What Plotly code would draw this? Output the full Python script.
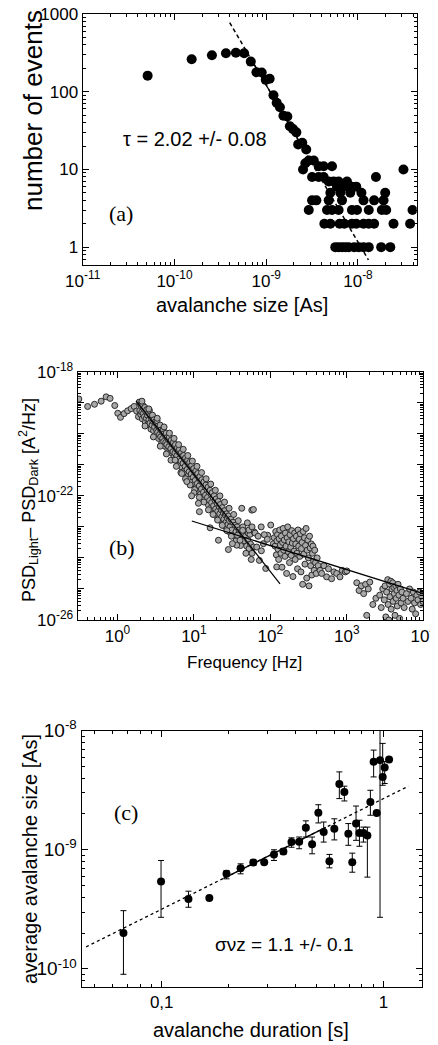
import plotly.graph_objects as go

W, H = 438, 1045          # browser window
OFF = 8                   # default page body margin that offsets the figure
FW, FH = W - OFF, H - OFF # figure size so that it fits the window exactly
SANS = "Liberation Sans, Arial, sans-serif"
SERIF = "Liberation Serif, Times New Roman, serif"

# ---------------- panel (a): avalanche size distribution ----------------
size_main = [5.1e-11, 1.54e-10, 2.56e-10, 3.64e-10, 4.67e-10, 5.74e-10, 6.79e-10, 7.82e-10,
             8.93e-10, 9.88e-10, 1.09e-9, 1.20e-9, 1.30e-9, 1.41e-9, 1.54e-9, 1.70e-9,
             1.81e-9, 1.96e-9, 2.13e-9, 2.23e-9, 2.47e-9, 2.73e-9]
events_main = [161, 261, 294, 312, 318, 312, 244, 178, 177, 142, 147, 90, 72, 63, 49, 48,
               36, 33, 30, 21, 22, 18]
size_tail = [2.91e-9, 3.30e-9,
             2.67e-9,
             3.73e-9, 4.23e-9, 5.21e-9,
             2.52e-9, 3.13e-8,
             3.16e-9, 3.73e-9, 4.23e-9, 1.57e-8,
             4.80e-9, 5.43e-9, 6.15e-9, 7.59e-9,
             5.90e-9, 6.98e-9, 8.59e-9, 9.58e-9,
             5.00e-9, 6.42e-9, 8.24e-9, 1.09e-8, 1.98e-8,
             3.16e-9, 3.52e-9, 4.80e-9, 6.70e-9, 1.15e-8, 1.50e-8, 1.90e-8,
             2.91e-9, 4.60e-9, 5.21e-9, 6.15e-9, 8.59e-9, 9.75e-9, 1.31e-8, 1.82e-8, 2.03e-8, 3.93e-8,
             4.30e-9, 5.00e-9, 6.31e-9, 7.10e-9, 8.59e-9, 9.58e-9, 1.15e-8, 1.31e-8, 1.50e-8, 2.44e-8, 3.70e-8,
             5.66e-9, 6.15e-9, 6.70e-9, 7.28e-9, 7.91e-9, 9.11e-9, 1.02e-8, 1.15e-8, 1.31e-8, 1.79e-8, 2.25e-8]
events_tail = [13, 13,
               12,
               11, 11, 11,
               10, 10,
               8, 8, 8, 8,
               7, 7, 7, 7,
               6, 6, 6, 6,
               5, 5, 5, 5, 5,
               4, 4, 4, 4, 4, 4, 4,
               3, 3, 3, 3, 3, 3, 3, 3, 3, 3,
               2, 2, 2, 2, 2, 2, 2, 2, 2, 2, 2,
               1, 1, 1, 1, 1, 1, 1, 1, 1, 1, 1]
tau = 2.02
tau_anchor = (4.0e-10, 775.0)
tau_line_x = [4.0e-10, 1.3e-8]
tau_solid_x = [7.0e-10, 2.5e-9]

psd_low_f = [-0.505, -0.39, -0.30, -0.213, -0.148, -0.096, -0.035, 0.004, 0.04, 0.087,
             0.133, 0.179, 0.218, 0.25, 0.275]
psd_low_p = [-18.88, -19.12, -19.05, -18.95, -18.81, -18.86, -19.09, -19.34, -19.47, -19.35,
             -19.26, -19.19, -19.12, -19.27, -19.45]
psd_steep_f = [
    0.285, 0.292, 0.300, 0.305, 0.312, 0.318, 0.325, 0.331, 0.338, 0.345, 0.352, 0.358, 0.365, 0.371,
    0.378, 0.384, 0.391, 0.398, 0.405, 0.411, 0.418, 0.425, 0.432, 0.438, 0.445, 0.452, 0.458, 0.465,
    0.472, 0.478, 0.485, 0.492, 0.498, 0.505, 0.512, 0.518, 0.525, 0.531, 0.538, 0.545, 0.551, 0.558,
    0.565, 0.571, 0.578, 0.585, 0.591, 0.598, 0.605, 0.611, 0.618, 0.625, 0.631, 0.638, 0.645, 0.651,
    0.658, 0.665, 0.671, 0.678, 0.685, 0.691, 0.698, 0.705, 0.711, 0.718, 0.725, 0.731, 0.738, 0.745,
    0.751, 0.758, 0.765, 0.771, 0.778, 0.785, 0.791, 0.798, 0.805, 0.811, 0.818, 0.825, 0.831, 0.838,
    0.845, 0.851, 0.858, 0.865, 0.871, 0.878, 0.885, 0.891, 0.898, 0.905, 0.911, 0.918, 0.925, 0.931,
    0.938, 0.945, 0.951, 0.958, 0.965, 0.971, 0.978, 0.985, 0.991, 0.998, 1.005, 1.011, 1.018, 1.025,
    1.031, 1.038, 1.045, 1.051, 1.058, 1.065, 1.071, 1.078, 1.085, 1.091, 1.098, 1.105, 1.111, 1.118,
    1.125, 1.131, 1.138, 1.145, 1.151, 1.158, 1.165, 1.171, 1.178, 1.185, 1.191, 1.198, 1.205, 1.211,
    1.218, 1.225, 1.231, 1.238, 1.245, 1.251, 1.258, 1.265, 1.271, 1.278, 1.285, 1.291, 1.298, 1.305,
    1.311, 1.318, 1.325, 1.331, 1.338, 1.345, 1.351, 1.358, 1.365, 1.371, 1.378, 1.385, 1.391, 1.398,
    1.405, 1.411, 1.418, 1.425, 1.431, 1.438, 1.445, 1.451, 1.458, 1.465, 1.472, 1.485, 1.498, 1.511,
    1.525, 1.538, 1.551, 1.565, 1.578, 1.591, 1.605, 1.618, 1.632, 1.645, 1.660, 1.675, 1.690, 1.705,
    1.722, 1.740, 1.760, 1.780]
psd_steep_p = [
    -18.98, -19.25, -19.05, -19.38, -19.10, -19.30, -19.52, -19.08, -19.35, -19.20, -19.45, -19.15, -19.62, -19.28,
    -19.50, -19.22, -19.40, -19.70, -19.33, -19.55, -19.25, -19.66, -19.42, -19.85, -19.50, -19.72, -19.40, -19.60,
    -19.90, -19.55, -19.78, -19.62, -20.05, -19.66, -19.88, -19.58, -19.95, -19.75, -20.15, -19.80, -20.02, -19.72,
    -20.10, -19.88, -20.30, -19.92, -20.15, -19.85, -20.25, -20.00, -20.40, -20.05, -20.28, -19.98, -20.35, -20.12,
    -20.50, -20.18, -20.42, -20.10, -20.55, -20.25, -20.48, -20.20, -20.62, -20.33, -20.58, -20.28, -20.75, -20.40,
    -20.62, -20.35, -20.80, -20.50, -20.70, -20.45, -20.90, -20.58, -20.82, -20.50, -20.98, -20.65, -20.88, -20.60,
    -21.10, -20.72, -20.95, -20.70, -21.20, -20.82, -21.05, -20.78, -21.28, -20.90, -21.15, -20.85, -21.35, -20.98,
    -21.22, -20.92, -21.45, -21.05, -21.30, -21.02, -21.55, -21.15, -21.40, -21.12, -21.62, -21.25, -21.50, -21.20,
    -21.72, -21.32, -21.60, -21.28, -21.85, -21.42, -21.68, -21.38, -21.95, -21.52, -21.78, -21.48, -22.05, -21.60,
    -21.88, -21.55, -22.10, -21.70, -21.98, -21.65, -22.20, -21.80, -22.05, -21.72, -22.30, -21.88, -22.15, -21.82,
    -22.40, -21.95, -22.22, -21.90, -22.50, -22.05, -22.32, -22.00, -22.55, -22.15, -22.42, -22.10, -22.65, -22.25,
    -22.50, -22.18, -22.72, -22.35, -22.58, -22.28, -22.80, -22.45, -22.68, -22.38, -22.90, -22.55, -22.75, -22.48,
    -22.98, -22.62, -22.85, -22.58, -23.05, -22.72, -22.92, -22.65, -23.15, -22.80, -23.00, -22.75, -23.10, -22.85,
    -23.25, -22.95, -23.15, -23.00, -23.40, -23.10, -23.30, -23.15, -23.50, -23.25, -23.45, -23.30, -23.62, -23.42,
    -23.70, -23.55, -23.85, -23.65]
psd_wide_f = [0.32, 0.36, 0.41, 0.47, 0.52, 0.56, 0.61, 0.64, 0.68, 0.70, 0.74, 0.77, 0.80, 0.83,
              0.86, 0.89, 0.92, 0.95, 0.98, 1.01, 1.04, 1.07, 1.10, 1.13, 1.16, 1.19, 1.22, 1.25,
              1.28, 1.31, 1.34, 1.37, 1.40, 1.43, 1.46, 1.49, 1.52, 1.55, 1.58, 1.61, 1.64, 1.68,
              1.71, 1.75]
psd_wide_p = [-18.95, -19.75, -19.20, -20.10, -19.50, -20.40, -19.78, -20.65, -19.98, -20.85, -20.15, -21.05,
              -20.35, -21.25, -20.50, -21.45, -20.70, -21.65, -20.88, -21.80, -21.05, -22.05, -21.25, -22.20,
              -21.45, -22.45, -21.62, -22.60, -21.82, -22.78, -22.00, -22.95, -22.20, -23.12, -22.40, -23.30,
              -22.60, -23.45, -22.80, -23.60, -23.00, -23.85, -23.20, -24.05]
psd_out_f = [0.754, 0.841, 0.907, 1.059, 1.072, 1.212, 1.321, 1.451, 1.560, 1.757, 1.778, 1.626,
             2.005, 2.236, 1.503, 1.569, 1.603, 1.638, 1.699, 1.734, 1.787, 1.821, 1.856, 1.882,
             1.908, 1.939, 1.965, 2.039, 2.083, 1.72, 1.76, 1.80, 1.84, 1.88, 1.92, 1.96, 1.0, 0.97]
psd_out_p = [-20.85, -21.28, -21.54, -22.24, -22.51, -23.03, -23.43, -23.73, -23.59, -22.46, -22.44, -22.40,
             -22.94, -23.16, -23.54, -23.27, -23.43, -23.11, -22.87, -23.24, -23.16, -23.65, -24.08, -23.77,
             -23.54, -24.34, -23.27, -23.54, -24.29, -23.1, -23.0, -23.2, -23.3, -23.0, -23.25, -23.4, -21.9, -22.0]
psd_flat_f = [
    2.050, 2.062, 2.070, 2.078, 2.085, 2.093, 2.100, 2.108, 2.115, 2.122, 2.130, 2.138, 2.145, 2.152,
    2.160, 2.167, 2.175, 2.182, 2.190, 2.197, 2.205, 2.212, 2.220, 2.227, 2.235, 2.242, 2.250, 2.257,
    2.265, 2.272, 2.280, 2.287, 2.295, 2.302, 2.310, 2.317, 2.325, 2.332, 2.340, 2.347, 2.355, 2.362,
    2.370, 2.377, 2.385, 2.392, 2.400, 2.407, 2.415, 2.422, 2.430, 2.437, 2.445, 2.452, 2.460, 2.467,
    2.475, 2.482, 2.490, 2.497, 2.505, 2.512, 2.520, 2.527, 2.535, 2.542, 2.550, 2.557, 2.565, 2.572,
    2.580, 2.590, 2.600, 2.612, 2.625,
    2.650, 2.671, 2.700, 2.736, 2.760, 2.800, 2.830, 2.867, 2.910, 2.940, 2.980, 3.000,
    3.130, 3.160, 3.190, 3.220, 3.245, 3.260, 3.280, 3.300, 3.340, 3.380,
    3.430, 3.450, 3.470, 3.490, 3.500, 3.510, 3.520, 3.535, 3.540, 3.550, 3.560, 3.565, 3.575, 3.580,
    3.590, 3.600, 3.605, 3.615, 3.620, 3.630, 3.640, 3.645, 3.655, 3.660, 3.670, 3.680, 3.690, 3.700,
    3.710, 3.720, 3.735, 3.750, 3.780, 3.800, 3.820, 3.840, 3.855, 3.870, 3.885, 3.900, 3.915, 3.930,
    3.950, 3.965, 3.980, 3.995]
psd_flat_p = [
    -23.35, -23.62, -23.15, -23.90, -23.45, -23.25, -23.72, -24.05, -23.38, -23.10, -23.58, -23.85, -23.30, -24.30,
    -23.50, -23.05, -23.75, -23.42, -23.95, -23.20, -23.62, -24.50, -23.35, -23.00, -23.80, -23.48, -24.15, -23.25,
    -23.65, -23.92, -23.12, -23.52, -24.60, -23.38, -23.78, -23.20, -24.05, -23.55, -23.30, -23.85, -24.35, -23.10,
    -23.62, -23.40, -23.95, -23.22, -24.45, -23.70, -23.50, -24.85, -23.15, -23.88, -23.35, -24.20, -23.60, -23.05,
    -24.65, -23.75, -23.42, -24.00, -24.90, -23.30, -23.68, -24.25, -23.55, -24.55, -23.85, -23.62, -24.10, -24.40,
    -23.75, -24.15, -24.50, -24.00, -24.25,
    -24.40, -24.50, -24.25, -24.61, -24.35, -24.67, -24.45, -24.50, -24.61, -24.40, -24.45, -24.42,
    -24.80, -25.05, -24.90, -25.15, -24.85, -25.85, -25.00, -24.78, -25.50, -25.30,
    -25.20, -25.60, -25.00, -25.35, -24.90, -25.90, -25.10, -24.70, -25.50, -26.00, -24.85, -25.25, -24.75, -25.65,
    -25.00, -24.80, -25.40, -24.95, -25.15, -25.85, -24.90, -25.30, -25.05, -25.55, -24.85, -25.20, -25.95, -25.00,
    -25.45, -25.10, -25.30, -25.60, -25.15, -25.40, -25.00, -25.30, -25.65, -25.10, -25.45, -25.80, -25.20, -25.35,
    -25.10, -25.50, -25.25, -25.40]
psd_fit1 = dict(x=[1.75, 133.7], slope=-3.13, y0=1.15e-19)
psd_fit2 = dict(x=[9.38, 1.0e4], slope=-0.773, y0=1.55e-23)

# ---------------- panel (c): size vs duration ----------------
duration = [0.0672, 0.0993, 0.132, 0.164, 0.196, 0.227, 0.259, 0.290, 0.321, 0.354, 0.385,
            0.417, 0.447, 0.477, 0.509, 0.538, 0.571, 0.601, 0.633, 0.667, 0.695, 0.724,
            0.753, 0.780, 0.813, 0.847, 0.874, 0.904, 0.933, 0.966, 0.993, 1.014, 1.061]
avg_size = [2.0e-10, 5.41e-10, 3.86e-10, 3.94e-10, 6.28e-10, 7.01e-10, 7.81e-10, 7.87e-10,
            9.14e-10, 9.68e-10, 1.16e-9, 1.17e-9, 1.53e-9, 1.11e-9, 2.05e-9, 1.41e-9, 8.02e-10,
            1.50e-9, 3.56e-9, 3.06e-9, 1.36e-9, 7.87e-10, 1.66e-9, 1.38e-9, 1.38e-9, 1.32e-9,
            2.52e-9, 5.48e-9, 2.04e-9, 5.66e-9, 4.09e-9, 4.91e-9, 5.73e-9]
size_hi = [3.08e-10, 8.13e-10, 4.49e-10, 3.94e-10, 6.70e-10, 7.62e-10, 8.24e-10, 8.1e-10,
           1.0e-9, 1.02e-9, 1.26e-9, 1.28e-9, 1.75e-9, 1.28e-9, 2.39e-9, 1.71e-9, 9.14e-10,
           1.82e-9, 4.51e-9, 3.42e-9, 1.66e-9, 9.37e-10, 2.33e-9, 1.77e-9, 1.55e-9, 1.55e-9,
           3.16e-9, 6.87e-9, 2.04e-9, 1.3e-8, 7.82e-9, 5.5e-9, 5.73e-9]
size_lo = [9.0e-11, 2.71e-10, 3.29e-10, 3.94e-10, 5.70e-10, 6.28e-10, 7.38e-10, 7.6e-10,
           8.13e-10, 9.14e-10, 1.05e-9, 1.02e-9, 1.28e-9, 9.25e-10, 1.68e-9, 1.16e-9, 7.05e-10,
           1.21e-9, 2.69e-9, 2.57e-9, 1.09e-9, 6.48e-10, 1.2e-9, 1.07e-9, 1.16e-9, 5.89e-10,
           1.95e-9, 4.09e-9, 2.04e-9, 2.71e-10, 3.48e-9, 3.6e-9, 5.73e-9]
snz_slope = 0.928
snz_anchor = (0.0456, 1.53e-10)
snz_line_x = [0.0456, 1.297]
snz_solid_x = [0.19, 0.55]


def powerline(xs, x0, y0, slope):
    return [y0 * (x / x0) ** slope for x in xs]


b_lf = psd_low_f + psd_steep_f + psd_wide_f + psd_out_f + psd_flat_f
b_lp = psd_low_p + psd_steep_p + psd_wide_p + psd_out_p + psd_flat_p
freq = [10 ** v for v in b_lf]
psd = [10 ** v for v in b_lp]

fig = go.Figure()

# (a)
fig.add_trace(go.Scatter(x=size_main + size_tail, y=events_main + events_tail, mode="markers",
                         marker=dict(color="black", size=10), xaxis="x", yaxis="y",
                         showlegend=False))
fig.add_trace(go.Scatter(x=tau_line_x, y=powerline(tau_line_x, *tau_anchor, -tau), mode="lines",
                         line=dict(color="black", width=1.5, dash="4px,3px"), xaxis="x", yaxis="y",
                         showlegend=False))
fig.add_trace(go.Scatter(x=tau_solid_x, y=powerline(tau_solid_x, *tau_anchor, -tau), mode="lines",
                         line=dict(color="black", width=1.3), xaxis="x", yaxis="y",
                         showlegend=False))

# (b)
fig.add_trace(go.Scatter(x=freq, y=psd, mode="markers",
                         marker=dict(color="#a8a8a8", size=6, line=dict(color="#2a2a2a", width=1)),
                         xaxis="x2", yaxis="y2", showlegend=False))
for f in (psd_fit1, psd_fit2):
    fig.add_trace(go.Scatter(x=f["x"], y=powerline(f["x"], f["x"][0], f["y0"], f["slope"]),
                             mode="lines", line=dict(color="black", width=1.2),
                             xaxis="x2", yaxis="y2", showlegend=False))

# (c)
fig.add_trace(go.Scatter(x=snz_line_x, y=powerline(snz_line_x, *snz_anchor, snz_slope), mode="lines",
                         line=dict(color="black", width=1.3, dash="3px,3px"), xaxis="x3", yaxis="y3",
                         showlegend=False))
fig.add_trace(go.Scatter(x=snz_solid_x, y=powerline(snz_solid_x, *snz_anchor, snz_slope), mode="lines",
                         line=dict(color="black", width=1.3), xaxis="x3", yaxis="y3",
                         showlegend=False))
fig.add_trace(go.Scatter(x=duration, y=avg_size, mode="markers",
                         marker=dict(color="black", size=8),
                         error_y=dict(type="data", symmetric=False,
                                      array=[h - v for h, v in zip(size_hi, avg_size)],
                                      arrayminus=[v - l for v, l in zip(avg_size, size_lo)],
                                      color="black", thickness=1, width=3),
                         xaxis="x3", yaxis="y3", showlegend=False))


def minor_vals(e0, e1):
    return [m * 10.0 ** e for e in range(e0, e1) for m in range(2, 10)]


def pow_label(e):
    return "10<sup>%d</sup>" % e


def axis(domain, rng, tickvals, ticktext, minor, anchor, fs):
    return dict(type="log", domain=domain, range=rng, anchor=anchor, automargin=False,
                ticklabeloverflow="allow",
                tickmode="array", tickvals=tickvals, ticktext=ticktext,
                ticks="inside", ticklen=6, tickwidth=1, tickcolor="black",
                showline=True, linecolor="black", linewidth=1.3, mirror="ticks",
                showgrid=False, zeroline=False,
                tickfont=dict(family=SANS, size=fs, color="black"),
                minor=dict(tickmode="array", tickvals=minor, ticks="inside", ticklen=3,
                           tickwidth=1, tickcolor="black", showgrid=False))


def xd(a, b):
    return [(a - OFF) / FW, (b - OFF) / FW]


def yd(top, bot):
    return [1 - (bot - OFF) / FH, 1 - (top - OFF) / FH]


b_y_decades = list(range(-26, -17))
fig.update_layout(
    width=FW, height=FH, margin=dict(l=0, r=0, t=0, b=0, pad=0, autoexpand=False),
    paper_bgcolor="white", plot_bgcolor="white",
    xaxis=axis(xd(82.7, 416.7), [-11, -7.36], [10.0 ** e for e in range(-11, -7)],
               [pow_label(e) for e in range(-11, -7)], minor_vals(-11, -7), "y", 17),
    yaxis=axis(yd(14, 265), [-0.23, 3], [1, 10, 100, 1000], ["1", "10", "100", "1000"],
               minor_vals(-1, 3), "x", 17),
    xaxis2=axis(xd(77.7, 423.3), [-0.52, 4], [10.0 ** e for e in range(0, 5)],
                [pow_label(e) for e in range(0, 5)], minor_vals(-1, 4), "y2", 17),
    yaxis2=axis(yd(371.7, 620), [-26, -18], [10.0 ** e for e in b_y_decades],
                [pow_label(e) if e in (-26, -22, -18) else "" for e in b_y_decades],
                minor_vals(-26, -18), "x2", 17),
    xaxis3=axis(xd(81.7, 421.7), [-1.361, 0.173], [0.1, 1], ["0,1", "1"],
                minor_vals(-2, 1), "y3", 17),
    yaxis3=axis(yd(730.7, 986.7), [-10.15, -8], [1e-10, 1e-9, 1e-8],
                [pow_label(e) for e in (-10, -9, -8)], minor_vals(-11, -8), "x3", 19),
)


def note(text, px, py, size, family=SANS, angle=0):
    fig.add_annotation(text=text, x=(px - OFF) / FW, y=1 - (py - OFF) / FH,
                       xref="paper", yref="paper",
                       showarrow=False, textangle=angle, xanchor="center", yanchor="middle",
                       font=dict(family=family, size=size, color="black"))


note("avalanche size [As]", 242, 305, 20)
note("number of events", 33, 111, 26, angle=-90)
note("\u03c4 = 2.02 +/- 0.08", 195, 139, 20)
note("(a)", 121, 214, 22, family=SERIF)

note("Frequency [Hz]", 245, 662, 17)
note("PSD<sub>Light</sub>\u2013 PSD<sub>Dark</sub> [A<sup>2</sup>/Hz]", 28, 500, 18, angle=-90)
note("(b)", 122, 547, 22, family=SERIF)

note("avalanche duration [s]", 251, 1030, 20)
note("average avalanche size [As]", 30, 859, 20, angle=-90)
note("\u03c3\u03bdz = 1.1 +/- 0.1", 284, 944, 19)
note("(c)", 126, 812, 22, family=SERIF)

fig.write_html("out.html")
